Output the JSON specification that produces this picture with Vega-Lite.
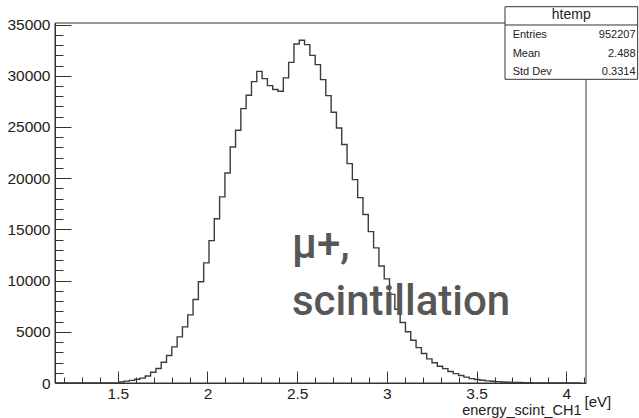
{
  "$schema": "https://vega.github.io/schema/vega-lite/v6.json",
  "width": 531,
  "height": 360,
  "autosize": {"type": "none"},
  "padding": {"left": 55, "top": 23, "right": 53, "bottom": 35},
  "background": "white",
  "config": {
    "view": {"stroke": null},
    "axis": {"grid": false, "labelFont": "Liberation Sans", "titleFont": "Liberation Sans", "labelColor": "#222", "titleColor": "#222", "domainColor": "#333", "tickColor": "#333", "titleFontWeight": "normal"}
  },
  "datasets": {
    "hist": [
      {"x": 1.15, "count": 0}, {"x": 1.1796, "count": 0}, {"x": 1.2092, "count": 0}, {"x": 1.2388, "count": 0},
      {"x": 1.2684, "count": 0}, {"x": 1.298, "count": 0}, {"x": 1.3276, "count": 0}, {"x": 1.3572, "count": 0},
      {"x": 1.3868, "count": 0}, {"x": 1.4164, "count": 0}, {"x": 1.446, "count": 0}, {"x": 1.4756, "count": 0},
      {"x": 1.5052, "count": 100}, {"x": 1.5348, "count": 180}, {"x": 1.5644, "count": 260}, {"x": 1.594, "count": 370},
      {"x": 1.6236, "count": 480}, {"x": 1.6532, "count": 680}, {"x": 1.6828, "count": 1050}, {"x": 1.7124, "count": 1420},
      {"x": 1.742, "count": 2030}, {"x": 1.7716, "count": 2680}, {"x": 1.8012, "count": 3530}, {"x": 1.8308, "count": 4500},
      {"x": 1.8604, "count": 5480}, {"x": 1.89, "count": 6650}, {"x": 1.9196, "count": 8150}, {"x": 1.9492, "count": 9880},
      {"x": 1.9788, "count": 11730}, {"x": 2.0084, "count": 13900}, {"x": 2.038, "count": 16030}, {"x": 2.0676, "count": 18170},
      {"x": 2.0972, "count": 20510}, {"x": 2.1268, "count": 23050}, {"x": 2.1564, "count": 24680}, {"x": 2.186, "count": 26790},
      {"x": 2.2156, "count": 28090}, {"x": 2.2452, "count": 29430}, {"x": 2.2748, "count": 30430}, {"x": 2.3044, "count": 29720},
      {"x": 2.334, "count": 29040}, {"x": 2.3636, "count": 28650}, {"x": 2.3932, "count": 28480}, {"x": 2.4228, "count": 29790},
      {"x": 2.4524, "count": 31310}, {"x": 2.482, "count": 33100}, {"x": 2.5116, "count": 33460}, {"x": 2.5412, "count": 33040},
      {"x": 2.5708, "count": 31990}, {"x": 2.6004, "count": 31090}, {"x": 2.63, "count": 29620}, {"x": 2.6596, "count": 28060},
      {"x": 2.6892, "count": 26430}, {"x": 2.7188, "count": 24900}, {"x": 2.7484, "count": 23280}, {"x": 2.778, "count": 21420},
      {"x": 2.8076, "count": 19860}, {"x": 2.8372, "count": 18100}, {"x": 2.8668, "count": 16450}, {"x": 2.8964, "count": 14780},
      {"x": 2.926, "count": 13190}, {"x": 2.9556, "count": 11430}, {"x": 2.9852, "count": 10170}, {"x": 3.0148, "count": 8650},
      {"x": 3.0444, "count": 7200}, {"x": 3.074, "count": 5900}, {"x": 3.1036, "count": 5000}, {"x": 3.1332, "count": 4180},
      {"x": 3.1628, "count": 3450}, {"x": 3.1924, "count": 2880}, {"x": 3.222, "count": 2360}, {"x": 3.2516, "count": 1970},
      {"x": 3.2812, "count": 1640}, {"x": 3.3108, "count": 1400}, {"x": 3.3404, "count": 1120}, {"x": 3.37, "count": 920},
      {"x": 3.3996, "count": 730}, {"x": 3.4292, "count": 570}, {"x": 3.4588, "count": 430}, {"x": 3.4884, "count": 340},
      {"x": 3.518, "count": 270}, {"x": 3.5476, "count": 210}, {"x": 3.5772, "count": 170}, {"x": 3.6068, "count": 130},
      {"x": 3.6364, "count": 100}, {"x": 3.666, "count": 80}, {"x": 3.6956, "count": 60}, {"x": 3.7252, "count": 45},
      {"x": 3.7548, "count": 35}, {"x": 3.7844, "count": 25}, {"x": 3.814, "count": 0}, {"x": 3.8436, "count": 0},
      {"x": 3.8732, "count": 0}, {"x": 3.9028, "count": 0}, {"x": 3.9324, "count": 0}, {"x": 3.962, "count": 0},
      {"x": 3.9916, "count": 0}, {"x": 4.0212, "count": 0}, {"x": 4.0508, "count": 0}, {"x": 4.0804, "count": 0}
    ],
    "stats": [
      {"name": "htemp", "labels": ["Entries", "Mean", "Std Dev"], "values": ["952207", "2.488", "0.3314"]}
    ],
    "note": [
      {"text": ["μ+,", "scintillation"]}
    ]
  },
  "layer": [
    {
      "data": {"values": [{}]},
      "mark": {"type": "rect", "fill": null, "stroke": "#333", "strokeWidth": 1},
      "encoding": {
        "x": {"datum": 1.15, "type": "quantitative", "axis": {"orient": "bottom", "values": [1.2,1.3,1.4,1.5,1.6,1.7,1.8,1.9,2.0,2.1,2.2,2.3,2.4,2.5,2.6,2.7,2.8,2.9,3.0,3.1,3.2,3.3,3.4,3.5,3.6,3.7,3.8,3.9,4.0,4.1], "tickSize": -6, "labels": false, "domain": false, "title": "[eV]", "titleX": 529, "titleY": 23, "titleAlign": "left", "titleAnchor": "start", "titleBaseline": "alphabetic", "titleFontSize": 15}},
        "x2": {"datum": 4.11},
        "y": {"datum": 0, "type": "quantitative", "axis": {"orient": "left", "values": [1000,2000,3000,4000,6000,7000,8000,9000,11000,12000,13000,14000,16000,17000,18000,19000,21000,22000,23000,24000,26000,27000,28000,29000,31000,32000,33000,34000], "tickSize": -8, "labels": false, "domain": false, "title": null}},
        "y2": {"datum": 35150}
      }
    },
    {
      "data": {"name": "hist"},
      "mark": {"type": "line", "interpolate": "step-after", "color": "#3c3c3c", "strokeWidth": 1.4},
      "encoding": {
        "x": {"field": "x", "type": "quantitative", "scale": {"domain": [1.15, 4.11], "nice": false, "zero": false},
              "axis": {"orient": "bottom", "values": [1.5, 2, 2.5, 3, 3.5, 4], "format": "~g", "tickSize": -12, "labelFontSize": 15.5, "labelPadding": 15, "title": "energy_scint_CH1", "titleX": 526, "titleY": 31.5, "titleAlign": "right", "titleAnchor": "end", "titleBaseline": "alphabetic", "titleFontSize": 14.5}},
        "y": {"field": "count", "type": "quantitative", "scale": {"domain": [0, 35150], "nice": false},
              "axis": {"orient": "left", "values": [0, 5000, 10000, 15000, 20000, 25000, 30000, 35000], "format": "d", "tickSize": -16, "labelFontSize": 15.5, "labelPadding": 21, "title": null}}
      }
    },
    {
      "data": {"name": "note"},
      "mark": {"type": "text", "font": "Roboto", "fontWeight": 500, "fontSize": 42, "color": "#575757", "align": "left", "baseline": "alphabetic", "lineHeight": 57},
      "encoding": {
        "x": {"datum": 2.471, "type": "quantitative", "axis": null},
        "y": {"datum": 12205, "type": "quantitative", "axis": null},
        "text": {"field": "text", "type": "nominal"}
      }
    },
    {
      "data": {"values": [{}]},
      "mark": {"type": "rect", "fill": "white", "stroke": "#333", "strokeWidth": 1},
      "encoding": {
        "x": {"datum": 3.6585, "type": "quantitative", "axis": null},
        "x2": {"datum": 4.398},
        "y": {"datum": 36741, "type": "quantitative", "axis": null},
        "y2": {"datum": 29653}
      }
    },
    {
      "data": {"values": [{}]},
      "mark": {"type": "rule", "stroke": "#333", "strokeWidth": 1},
      "encoding": {
        "x": {"datum": 3.6585, "type": "quantitative", "axis": null},
        "x2": {"datum": 4.398},
        "y": {"datum": 34955, "type": "quantitative", "axis": null}
      }
    },
    {
      "data": {"name": "stats"},
      "mark": {"type": "text", "font": "Liberation Sans", "fontSize": 14, "color": "#222", "align": "center", "baseline": "middle"},
      "encoding": {
        "x": {"datum": 4.028, "type": "quantitative", "axis": null},
        "y": {"datum": 35931, "type": "quantitative", "axis": null},
        "text": {"field": "name", "type": "nominal"}
      }
    },
    {
      "data": {"name": "stats"},
      "mark": {"type": "text", "font": "Liberation Sans", "fontSize": 11, "color": "#222", "align": "left", "baseline": "alphabetic", "lineHeight": 18.4},
      "encoding": {
        "x": {"datum": 3.701, "type": "quantitative", "axis": null},
        "y": {"datum": 33666, "type": "quantitative", "axis": null},
        "text": {"field": "labels", "type": "nominal"}
      }
    },
    {
      "data": {"name": "stats"},
      "mark": {"type": "text", "font": "Liberation Sans", "fontSize": 11, "color": "#222", "align": "right", "baseline": "alphabetic", "lineHeight": 18.4},
      "encoding": {
        "x": {"datum": 4.386, "type": "quantitative", "axis": null},
        "y": {"datum": 33666, "type": "quantitative", "axis": null},
        "text": {"field": "values", "type": "nominal"}
      }
    }
  ],
  "resolve": {"axis": {"x": "independent", "y": "independent"}}
}
